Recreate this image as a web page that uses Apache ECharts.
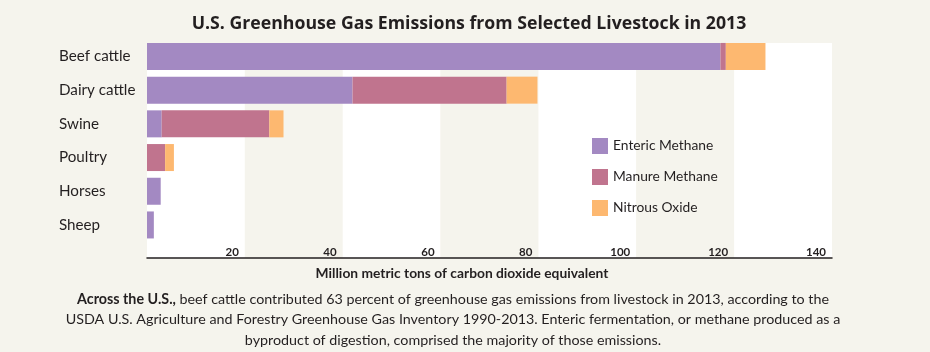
<!DOCTYPE html>
<html>
<head>
<meta charset="utf-8">
<script src="https://cdn.jsdelivr.net/npm/echarts@6/dist/echarts.min.js"></script>
<style>
html,body{margin:0;padding:0;background:#f5f4ed;}
#chart{width:930px;height:352px;}
</style>
</head>
<body>
<div id="chart"></div>
<script>
// livestock categories, top to bottom
var animals = ['Beef cattle', 'Dairy cattle', 'Swine', 'Poultry', 'Horses', 'Sheep'];
// million metric tons CO2 eq
var enteric = [117.2, 42.0, 3.0, 0, 2.8, 1.4];
var manure  = [1.1, 31.5, 22.0, 3.7, 0, 0];
var nitrous = [8.1, 6.3, 2.9, 1.8, 0, 0];
var xTicks = [0, 20, 40, 60, 80, 100, 120, 140];

var font = 'Lato, "Open Sans", sans-serif';
var chart = echarts.init(document.getElementById('chart'));

var option = {
	backgroundColor: '#f5f4ed',
	title: [
		{
			text: 'U.S. Greenhouse Gas Emissions from Selected Livestock in 2013',
			left: 464, textAlign: 'center',
			top: 10,
			textStyle: {fontFamily: '"Open Sans", sans-serif', fontWeight: 'bold', fontSize: 17.7, color: '#231f20'}
		},
		{
			text: 'Million metric tons of carbon dioxide equivalent',
			left: 457, textAlign: 'center',
			top: 262,
			textStyle: {fontFamily: font, fontWeight: 'bold', fontSize: 13.8, color: '#231f20'}
		},
		{
			text: '{b|Across the U.S.,} beef cattle contributed 63 percent of greenhouse gas emissions from livestock in 2013, according to the\n' +
				'USDA U.S. Agriculture and Forestry Greenhouse Gas Inventory 1990-2013. Enteric fermentation, or methane produced as a\n' +
				'byproduct of digestion, comprised the majority of those emissions.',
			left: 448, textAlign: 'center',
			top: 284,
			textStyle: {
				fontFamily: font, fontWeight: 'normal', fontSize: 14.3, color: '#231f20', lineHeight: 20.5,
				rich: {b: {fontFamily: font, fontWeight: 'bold', fontSize: 14.3, color: '#231f20', lineHeight: 20.5}}
			}
		}
	],
	legend: {
		orient: 'vertical',
		left: 592,
		top: 138,
		padding: 0,
		itemWidth: 16,
		itemHeight: 16,
		itemGap: 15,
		icon: 'rect',
		textStyle: {fontFamily: font, fontSize: 13.8, color: '#231f20'},
		data: ['Enteric Methane', 'Manure Methane', 'Nitrous Oxide']
	},
	grid: [
		// bars
		{left: 147, right: 98, top: 39.6, height: 202.2},
		// background bands, axis line, tick labels
		{left: 147, right: 98, top: 43, height: 215}
	],
	xAxis: [
		{
			gridIndex: 0, type: 'value', min: 0, max: 140, interval: 20,
			axisLine: {show: false}, axisTick: {show: false}, axisLabel: {show: false},
			splitLine: {show: false}
		},
		{
			gridIndex: 1, type: 'value', min: xTicks[0], max: xTicks[xTicks.length - 1], interval: 20,
			axisLine: {show: true, lineStyle: {color: '#231f20', width: 1.5}},
			axisTick: {show: false},
			splitLine: {show: false},
			splitArea: {show: true, areaStyle: {color: ['#ffffff', '#f5f4ed']}},
			axisLabel: {
				inside: true, showMinLabel: false, align: 'right', margin: 0,
				padding: [0, 6, 0, 0],
				fontFamily: font, fontWeight: 'bold', fontSize: 11.5, color: '#231f20'
			}
		}
	],
	yAxis: [
		{
			gridIndex: 0, type: 'category', data: animals, inverse: true,
			axisLine: {show: false}, axisTick: {show: false},
			axisLabel: {align: 'left', margin: 88, fontFamily: font, fontSize: 15.2, color: '#231f20'}
		},
		{gridIndex: 1, type: 'value', show: false}
	],
	series: [
		{name: 'Enteric Methane', type: 'bar', stack: 'total', data: enteric, barWidth: 27,
			itemStyle: {color: '#a389c2'}, z: 3},
		{name: 'Manure Methane', type: 'bar', stack: 'total', data: manure, barWidth: 27,
			itemStyle: {color: '#c0748e'}, z: 3},
		{name: 'Nitrous Oxide', type: 'bar', stack: 'total', data: nitrous, barWidth: 27,
			itemStyle: {color: '#fdb870'}, z: 3}
	]
};

chart.setOption(option);
</script>
</body>
</html>
